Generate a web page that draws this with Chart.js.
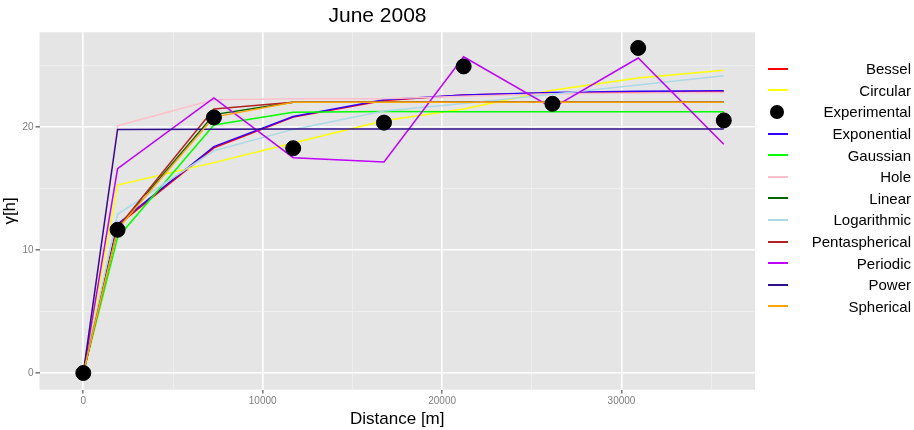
<!DOCTYPE html>
<html><head><meta charset="utf-8">
<script src="https://cdn.jsdelivr.net/npm/chart.js@4"></script>
<style>
body{margin:0;background:#fff;font-family:"Liberation Sans",Arial,sans-serif}
#wrap{position:relative;width:914px;height:430px}
#legend{position:absolute;left:766px;top:58px;width:145px}
.item{display:flex;align-items:center;height:21.6px;font-size:15px}
.key{width:22px;height:20px;position:relative;margin-right:4px}
.txt{flex:1;text-align:right}
</style></head>
<body><div id="wrap"><canvas id="c" width="914" height="430"></canvas><div id="legend"></div></div>
<script>
const distances = [0, 1910, 7280, 11700, 16760, 21200, 26150, 30930, 35700];
const experimental = [0, 11.64, 20.77, 18.27, 20.35, 24.92, 21.88, 26.42, 20.53];
const bessel = [0, 12.0, 18.3, 20.8, 22.15, 22.6, 22.75, 22.82, 22.85];
const circular = [0, 15.27, 17.1, 18.7, 20.5, 21.45, 22.98, 23.98, 24.6];
const exponential = [0, 12.1, 18.4, 20.85, 22.2, 22.6, 22.8, 22.9, 22.95];
const gaussian = [0, 11.0, 20.16, 21.2, 21.25, 21.23, 21.23, 21.23, 21.23];
const hole = [0, 20.1, 22.2, 22.3, 22.3, 22.5, 22.7, 22.75, 22.8];
const linear = [0, 11.8, 21.0, 22.0, 22.0, 22.0, 22.0, 22.0, 22.0];
const logarithmic = [0, 12.9, 18.06, 19.8, 21.3, 21.9, 22.66, 23.4, 24.16];
const pentaspherical = [0, 11.8, 21.45, 22.0, 22.0, 22.0, 22.0, 22.0, 22.0];
const periodic = [0, 16.6, 22.36, 17.5, 17.15, 25.7, 21.55, 25.6, 18.6];
const power = [0, 19.8, 19.82, 19.83, 19.84, 19.84, 19.84, 19.84, 19.84];
const spherical = [0, 11.7, 20.8, 22.0, 22.0, 22.0, 22.0, 22.0, 22.0];
const yTicks = [0, 10, 20];
const xTicks = [0, 10000, 20000, 30000];

const series = [
  ['Bessel', bessel, '#ff0000'],
  ['Circular', circular, '#ffff00'],
  ['Experimental', experimental, '#000000'],
  ['Exponential', exponential, '#3300ff'],
  ['Gaussian', gaussian, '#00ff00'],
  ['Hole', hole, '#ffc0cb'],
  ['Linear', linear, '#006400'],
  ['Logarithmic', logarithmic, '#add8e6'],
  ['Pentaspherical', pentaspherical, '#b22222'],
  ['Periodic', periodic, '#bf00ff'],
  ['Power', power, '#2e0f8c'],
  ['Spherical', spherical, '#ffa500']
];
const pts = arr => arr.map((v, i) => ({x: distances[i], y: v}));
// Chart.js paints the first dataset on top, so reverse the line order
const lines = series.filter(s => s[0] !== 'Experimental').map(s => ({
  label: s[0], data: pts(s[1]), borderColor: s[2], borderWidth: 1.5,
  pointRadius: 0, fill: false, tension: 0, showLine: true
})).reverse();
const datasets = [{
  label: 'Experimental', data: pts(experimental), backgroundColor: '#000',
  borderColor: '#000', pointRadius: 7.5, showLine: false
}, ...lines];

const bg = {id: 'bg', beforeDraw(ch) {
  const a = ch.chartArea, c = ch.ctx;
  c.save(); c.fillStyle = '#e5e5e5'; c.fillRect(a.left, a.top, a.width, a.height); c.restore();
}};

new Chart(document.getElementById('c'), {
  type: 'scatter',
  data: {datasets},
  plugins: [bg],
  options: {
    responsive: false, animation: false,
    layout: {padding: {right: 159, top: 0, left: 0, bottom: 0}},
    plugins: {
      legend: {display: false}, tooltip: {enabled: false},
      title: {display: true, text: 'June 2008', color: '#000', font: {size: 21, weight: 'normal', family: 'Liberation Sans'}, padding: {top: 4, bottom: 3}}
    },
    scales: {
      x: {
        type: 'linear', min: -2440, max: 37440,
        afterBuildTicks: ax => { ax.ticks = [0, 5000, 10000, 15000, 20000, 25000, 30000, 35000].map(v => ({value: v})); },
        ticks: {color: '#7f7f7f', font: {size: 10}, maxRotation: 0, padding: 2, callback: v => xTicks.includes(v) ? v : ''},
        grid: {color: c => xTicks.includes(c.tick.value) ? '#ffffff' : '#f0f0f0', lineWidth: c => xTicks.includes(c.tick.value) ? 1.6 : 0.8,
               tickColor: c => xTicks.includes(c.tick.value) ? '#7f7f7f' : 'rgba(0,0,0,0)', tickLength: 4},
        border: {display: false},
        title: {display: true, text: 'Distance [m]', color: '#000', font: {size: 17}, padding: 0}
      },
      y: {
        min: -1.35, max: 27.7,
        afterBuildTicks: ax => { ax.ticks = [0, 5, 10, 15, 20, 25].map(v => ({value: v})); },
        ticks: {color: '#7f7f7f', font: {size: 10}, padding: 2, callback: v => yTicks.includes(v) ? v : ''},
        grid: {color: c => yTicks.includes(c.tick.value) ? '#ffffff' : '#f0f0f0', lineWidth: c => yTicks.includes(c.tick.value) ? 1.6 : 0.8,
               tickColor: c => yTicks.includes(c.tick.value) ? '#7f7f7f' : 'rgba(0,0,0,0)', tickLength: 4},
        border: {display: false},
        title: {display: true, text: 'γ[h]', color: '#000', font: {size: 17}, padding: 0}
      }
    }
  }
});

const leg = document.getElementById('legend');
series.forEach(s => {
  const key = s[0] === 'Experimental'
    ? `<div style="position:absolute;left:4px;top:3px;width:14px;height:14px;border-radius:50%;background:#000"></div>`
    : `<div style="position:absolute;left:2px;top:9px;width:20px;height:2px;background:${s[2]}"></div>`;
  leg.insertAdjacentHTML('beforeend', `<div class="item"><div class="key">${key}</div><div class="txt">${s[0]}</div></div>`);
});
</script></body></html>
